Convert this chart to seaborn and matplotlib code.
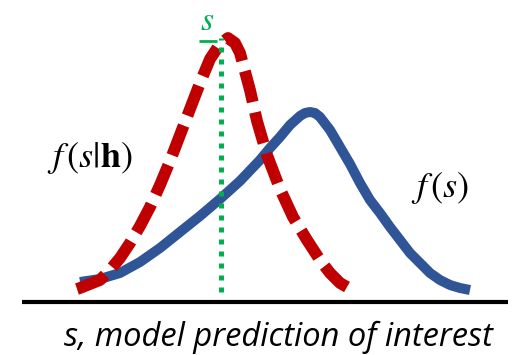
import matplotlib
matplotlib.use("Agg")
import matplotlib.pyplot as plt
import seaborn as sns

# values (x in picture units, y = height above the baseline)
prior_x = [80, 100, 120, 140, 160, 180, 200, 220, 240, 260, 270, 280, 290, 300, 305, 310,
           315, 320, 330, 340, 350, 360, 370, 380, 390, 400, 410, 420, 430, 440, 450, 460, 470]
prior_y = [20, 23, 29, 40, 54, 70, 86, 103, 121, 142, 154, 165, 177, 186, 189, 190,
           189, 185, 172, 155, 138, 119, 102, 89, 75, 62, 49, 39, 29, 22, 17, 14, 12]

post_x = [77, 80, 100, 110, 120, 130, 140, 150, 160, 170, 180, 190, 200, 210, 220,
          228, 235, 240, 250, 257, 267, 280, 293, 307, 320, 330, 340, 347]
post_y = [13, 14, 22, 32, 44, 59, 76, 95, 117, 141, 167, 193, 219, 243, 258,
          264, 259, 249, 212, 181, 147, 113, 85, 62, 42, 29, 19, 15]

s_star = 221
s_top = 264

sns.set_style("white")
plt.rcParams["mathtext.fontset"] = "stix"
plt.rcParams["text.color"] = "black"

fig = plt.figure(figsize=(5.12, 3.55), dpi=100)
ax = fig.add_axes([0, 0, 1, 1])

sns.lineplot(x=prior_x, y=prior_y, color="#2F5597", linewidth=7.2,
             solid_capstyle="butt", solid_joinstyle="round", ax=ax)
sns.lineplot(x=post_x, y=post_y, color="#C00000", linewidth=8.5,
             linestyle=(0, (2.7, 0.9)), dash_capstyle="butt",
             dash_joinstyle="round", ax=ax)
ax.vlines(s_star, 10, s_top, color="#00B050", linewidth=3.6,
          linestyles=[(0, (1.0, 1.4))])

# baseline
ax.hlines(0, 22, 508, color="black", linewidth=3)

# s* label with bar
ax.text(s_star - 14, s_top + 17, "$s$", color="#00B050", fontsize=24,
        ha="center", va="center")
ax.hlines(s_top - 3, s_star - 22, s_star - 4, color="#00B050", linewidth=2)

ax.text(90, 144, r"$f\,(s|\mathbf{h})$", fontsize=26, ha="center", va="center")
ax.text(440, 114, r"$f\,(s)$", fontsize=26, ha="center", va="center")
ax.text(278, -35, "s, model prediction of interest", fontsize=23.5,
        style="italic", family="Open Sans", ha="center", va="center")

ax.set_xlim(0, 512)
ax.set_ylim(-53, 302)
ax.axis("off")

fig.savefig("out.png", dpi=100)
